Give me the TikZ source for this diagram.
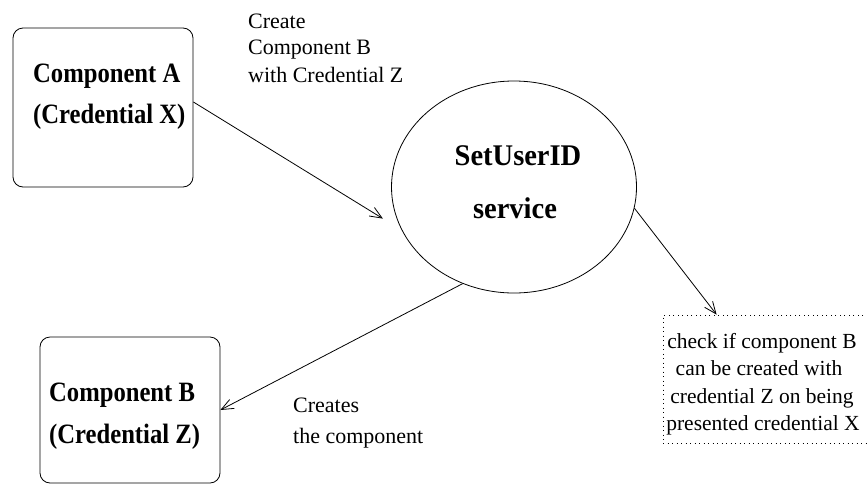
\documentclass[tikz,border=0pt]{standalone}
\usepackage{fontspec}
\setmainfont{Liberation Serif}
\newfontfamily\compfont{Liberation Serif}[FakeStretch=0.88]
\newfontfamily\svcfont{Liberation Serif}[FakeStretch=0.95]
\usetikzlibrary{shapes.geometric,arrows.meta,calc}

\tikzset{
  compbox/.style={draw, rectangle, rounded corners=10pt, line width=0.8pt,
                  minimum width=180pt, inner sep=0pt},
  comptext/.style={inner sep=0pt, anchor=base west,
                   font=\compfont\bfseries\fontsize{28}{28}\selectfont},
  svctext/.style={inner sep=0pt, anchor=base,
                  font=\svcfont\bfseries\fontsize{30}{30}\selectfont},
  lbl/.style={inner sep=0pt, anchor=base west, font=\fontsize{22}{22}\selectfont},
  notetext/.style={inner sep=0pt, anchor=base, font=\fontsize{21.5}{21.5}\selectfont},
  arr/.style={line width=0.8pt, -{Straight Barb[length=12pt,width=10pt]}},
}

\begin{document}
\begin{tikzpicture}[x=1pt, y=-1pt]
\useasboundingbox (0,0) rectangle (867,485);

% Component A
\node[compbox, minimum height=159pt] (A) at (103,107.5) {};
\node[comptext] (A1) at (33,82) {Component A};
\node[comptext] (A2) at (33,123) {(Credential X)};

% SetUserID service
\node[draw, ellipse, line width=0.8pt, minimum width=245pt, minimum height=212pt,
      inner sep=0pt] (S) at (514,187) {};
\node[svctext] (S1) at (518,165) {SetUserID};
\node[svctext] (S2) at (515,218) {service};

% Component B
\node[compbox, minimum height=146pt] (B) at (130,410) {};
\node[comptext] (B1) at (49,401) {Component B};
\node[comptext] (B2) at (49,443) {(Credential Z)};

% Check note
\node[draw, rectangle, line width=0.8pt, dash pattern=on 1pt off 3.5pt,
      minimum width=207pt, minimum height=128pt, inner sep=0pt] (C) at (766.5,379) {};
\node[notetext] (C1) at (762,348) {check if component B};
\node[notetext] (C2) at (759,375) {can be created with};
\node[notetext] (C3) at (762,403) {credential Z on being};
\node[notetext] (C4) at (763,430) {presented credential X};

% Message labels
\node[lbl] (L1) at (248,28) {Create};
\node[lbl] (L2) at (248,54) {Component B};
\node[lbl] (L3) at (248,82) {with Credential Z};
\node[lbl] (L4) at (293,412) {Creates};
\node[lbl] (L5) at (293,443) {the component};

% Connectors
\draw[arr, shorten >=22pt] ($(A.east)+(0,-5.5)$) -- (S.201);
\draw[arr] (S.242.5) -- (B.east);
\draw[arr] (S.-10) -- ($(C.north west)+(54,0)$);
\end{tikzpicture}
\end{document}
